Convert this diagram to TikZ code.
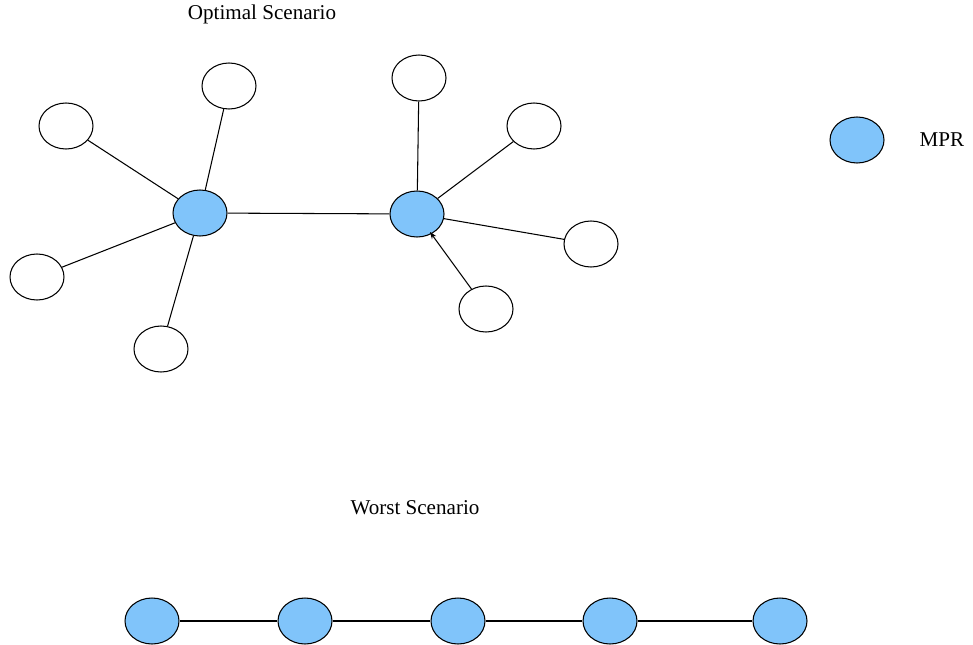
\documentclass[tikz,border=0pt]{standalone}
\usepackage{fontspec}
\setmainfont{Liberation Serif}
\usepackage{tikz}
\usetikzlibrary{shapes.geometric, arrows.meta}
\usepackage{xcolor}
\definecolor{mprblue}{RGB}{128,196,250}

\begin{document}
\begin{tikzpicture}[x=0.02cm, y=-0.02cm,
  host/.style={ellipse, draw, line width=0.6pt, minimum width=1.08cm, minimum height=0.92cm, inner sep=0pt},
  mpr/.style={host, fill=mprblue},
  link/.style={line width=0.6pt},
  caption/.style={font=\fontsize{12}{14}\selectfont}]
\useasboundingbox (0,0) rectangle (973,645);

% optimal scenario: two MPRs with their neighbours
\node[mpr] (m1) at (200,213) {};
\node[mpr] (m2) at (417,214) {};
\node[host] (a1) at (66,126) {};
\node[host] (a2) at (229,86) {};
\node[host] (a3) at (37,277) {};
\node[host] (a4) at (161,349) {};
\node[host] (b1) at (419,78) {};
\node[host] (b2) at (534,126) {};
\node[host] (b3) at (591,244) {};
\node[host] (b4) at (486,309) {};
\coordinate (tip) at (430,232);

\draw[link] (m1) -- (m2);
\draw[link] (m1) -- (a1);
\draw[link] (m1) -- (a2);
\draw[link] (m1) -- (a3);
\draw[link] (m1) -- (a4);
\draw[link] (m2) -- (b1);
\draw[link] (m2) -- (b2);
\draw[link] (m2) -- (b3);
\draw[link, -{Stealth[length=4pt, width=3pt]}] (b4) -- (tip);

% legend
\node[mpr] (key) at (857,140) {};
\node[caption] (keytext) at (942,140) {MPR};

% worst scenario: a chain of MPRs
\node[mpr] (w1) at (152,621) {};
\node[mpr] (w2) at (305,621) {};
\node[mpr] (w3) at (458,621) {};
\node[mpr] (w4) at (610,621) {};
\node[mpr] (w5) at (780,621) {};
\draw[link] (w1) -- (w2) -- (w3) -- (w4) -- (w5);

% titles
\node[caption] (optimal) at (262,14) {Optimal Scenario};
\node[caption] (worst) at (415,508) {Worst Scenario};
\end{tikzpicture}
\end{document}
